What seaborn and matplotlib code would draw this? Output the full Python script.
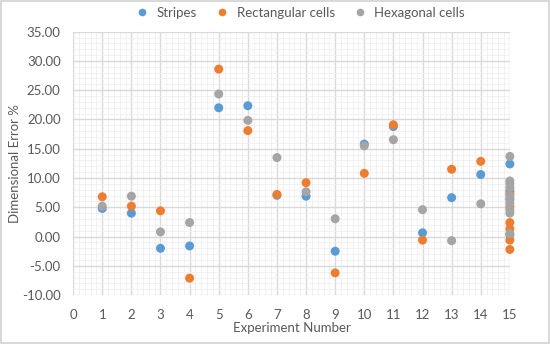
import matplotlib
matplotlib.use("Agg")
import matplotlib.pyplot as plt
import numpy as np
import pandas as pd
import seaborn as sns
from matplotlib.ticker import MultipleLocator, FormatStrFormatter

# Data (experiment 15 holds several repeat points)
stripes_x = [1, 2, 3, 4, 5, 6, 7, 8, 9, 10, 11, 12, 13, 14, 15, 15, 15, 15]
stripes_y = [4.8, 4.0, -2.0, -1.6, 22.0, 22.35, 7.05, 6.9, -2.5, 15.8, 18.8, 0.65, 6.65, 10.6,
             12.4, 7.8, 6.5, 0.3]

rect_x = [1, 2, 3, 4, 5, 6, 7, 8, 9, 10, 11, 12, 13, 14, 15, 15, 15, 15, 15, 15]
rect_y = [6.8, 5.2, 4.4, -7.1, 28.6, 18.1, 7.2, 9.2, -6.2, 10.8, 19.1, -0.6, 11.5, 12.85,
          7.3, 5.1, 2.4, 1.3, -0.6, -2.2]

hex_x = [1, 2, 3, 4, 5, 6, 7, 8, 9, 10, 11, 12, 13, 14, 15, 15, 15, 15, 15, 15, 15, 15, 15, 15]
hex_y = [5.2, 6.9, 0.8, 2.4, 24.35, 19.85, 13.5, 7.65, 3.05, 15.5, 16.55, 4.6, -0.7, 5.6,
         13.7, 9.5, 9.0, 8.4, 7.0, 6.3, 5.7, 4.6, 4.0, 0.5]

series = ["Stripes", "Rectangular cells", "Hexagonal cells"]
colors = ["#5B9BD5", "#ED7D31", "#A5A5A5"]

df = pd.concat([
    pd.DataFrame({"x": stripes_x, "y": stripes_y, "series": series[0]}),
    pd.DataFrame({"x": rect_x, "y": rect_y, "series": series[1]}),
    pd.DataFrame({"x": hex_x, "y": hex_y, "series": series[2]}),
], ignore_index=True)

sns.set_style("white")
plt.rcParams["font.family"] = ["Lato", "DejaVu Sans"]
text_col = "#595959"

fig = plt.figure(figsize=(5.5, 3.44), dpi=100)
fig.patch.set_edgecolor("#D9D9D9")
fig.patch.set_linewidth(1.5)
ax = fig.add_axes([0.133, 0.142, 0.794, 0.766])

sns.scatterplot(data=df, x="x", y="y", hue="series", hue_order=series,
                palette=colors, s=42, linewidth=0, ax=ax, clip_on=False,
                zorder=3, legend=False)

ax.set_xlim(0, 15)
ax.set_ylim(-10, 35)
ax.xaxis.set_major_locator(MultipleLocator(1))
ax.xaxis.set_minor_locator(MultipleLocator(0.2))
ax.yaxis.set_major_locator(MultipleLocator(5))
ax.yaxis.set_minor_locator(MultipleLocator(1))
ax.yaxis.set_major_formatter(FormatStrFormatter("%.2f"))
ax.grid(which="major", color="#D9D9D9", linewidth=1.0)
ax.grid(which="minor", color="#EFEFEF", linewidth=0.6)
ax.set_axisbelow(True)
for sp in ax.spines.values():
    sp.set_visible(False)
ax.tick_params(which="both", length=0, labelsize=9.5, labelcolor=text_col)
ax.tick_params(axis="x", pad=10)
ax.tick_params(axis="y", pad=9)

ax.set_xlabel("Experiment Number", fontsize=9.5, color=text_col, labelpad=1)
ax.set_ylabel("Dimensional Error %", fontsize=9.5, color=text_col, labelpad=1)

handles = [plt.Line2D([], [], marker="o", linestyle="", markersize=5.5,
                      markerfacecolor=c, markeredgewidth=0) for c in colors]
fig.legend(handles, series, loc="upper center", bbox_to_anchor=(0.54, 1.015),
           ncol=3, frameon=False, fontsize=9.5, handletextpad=0.1,
           columnspacing=0.9, labelcolor=text_col)

fig.savefig("out.png", dpi=100)
